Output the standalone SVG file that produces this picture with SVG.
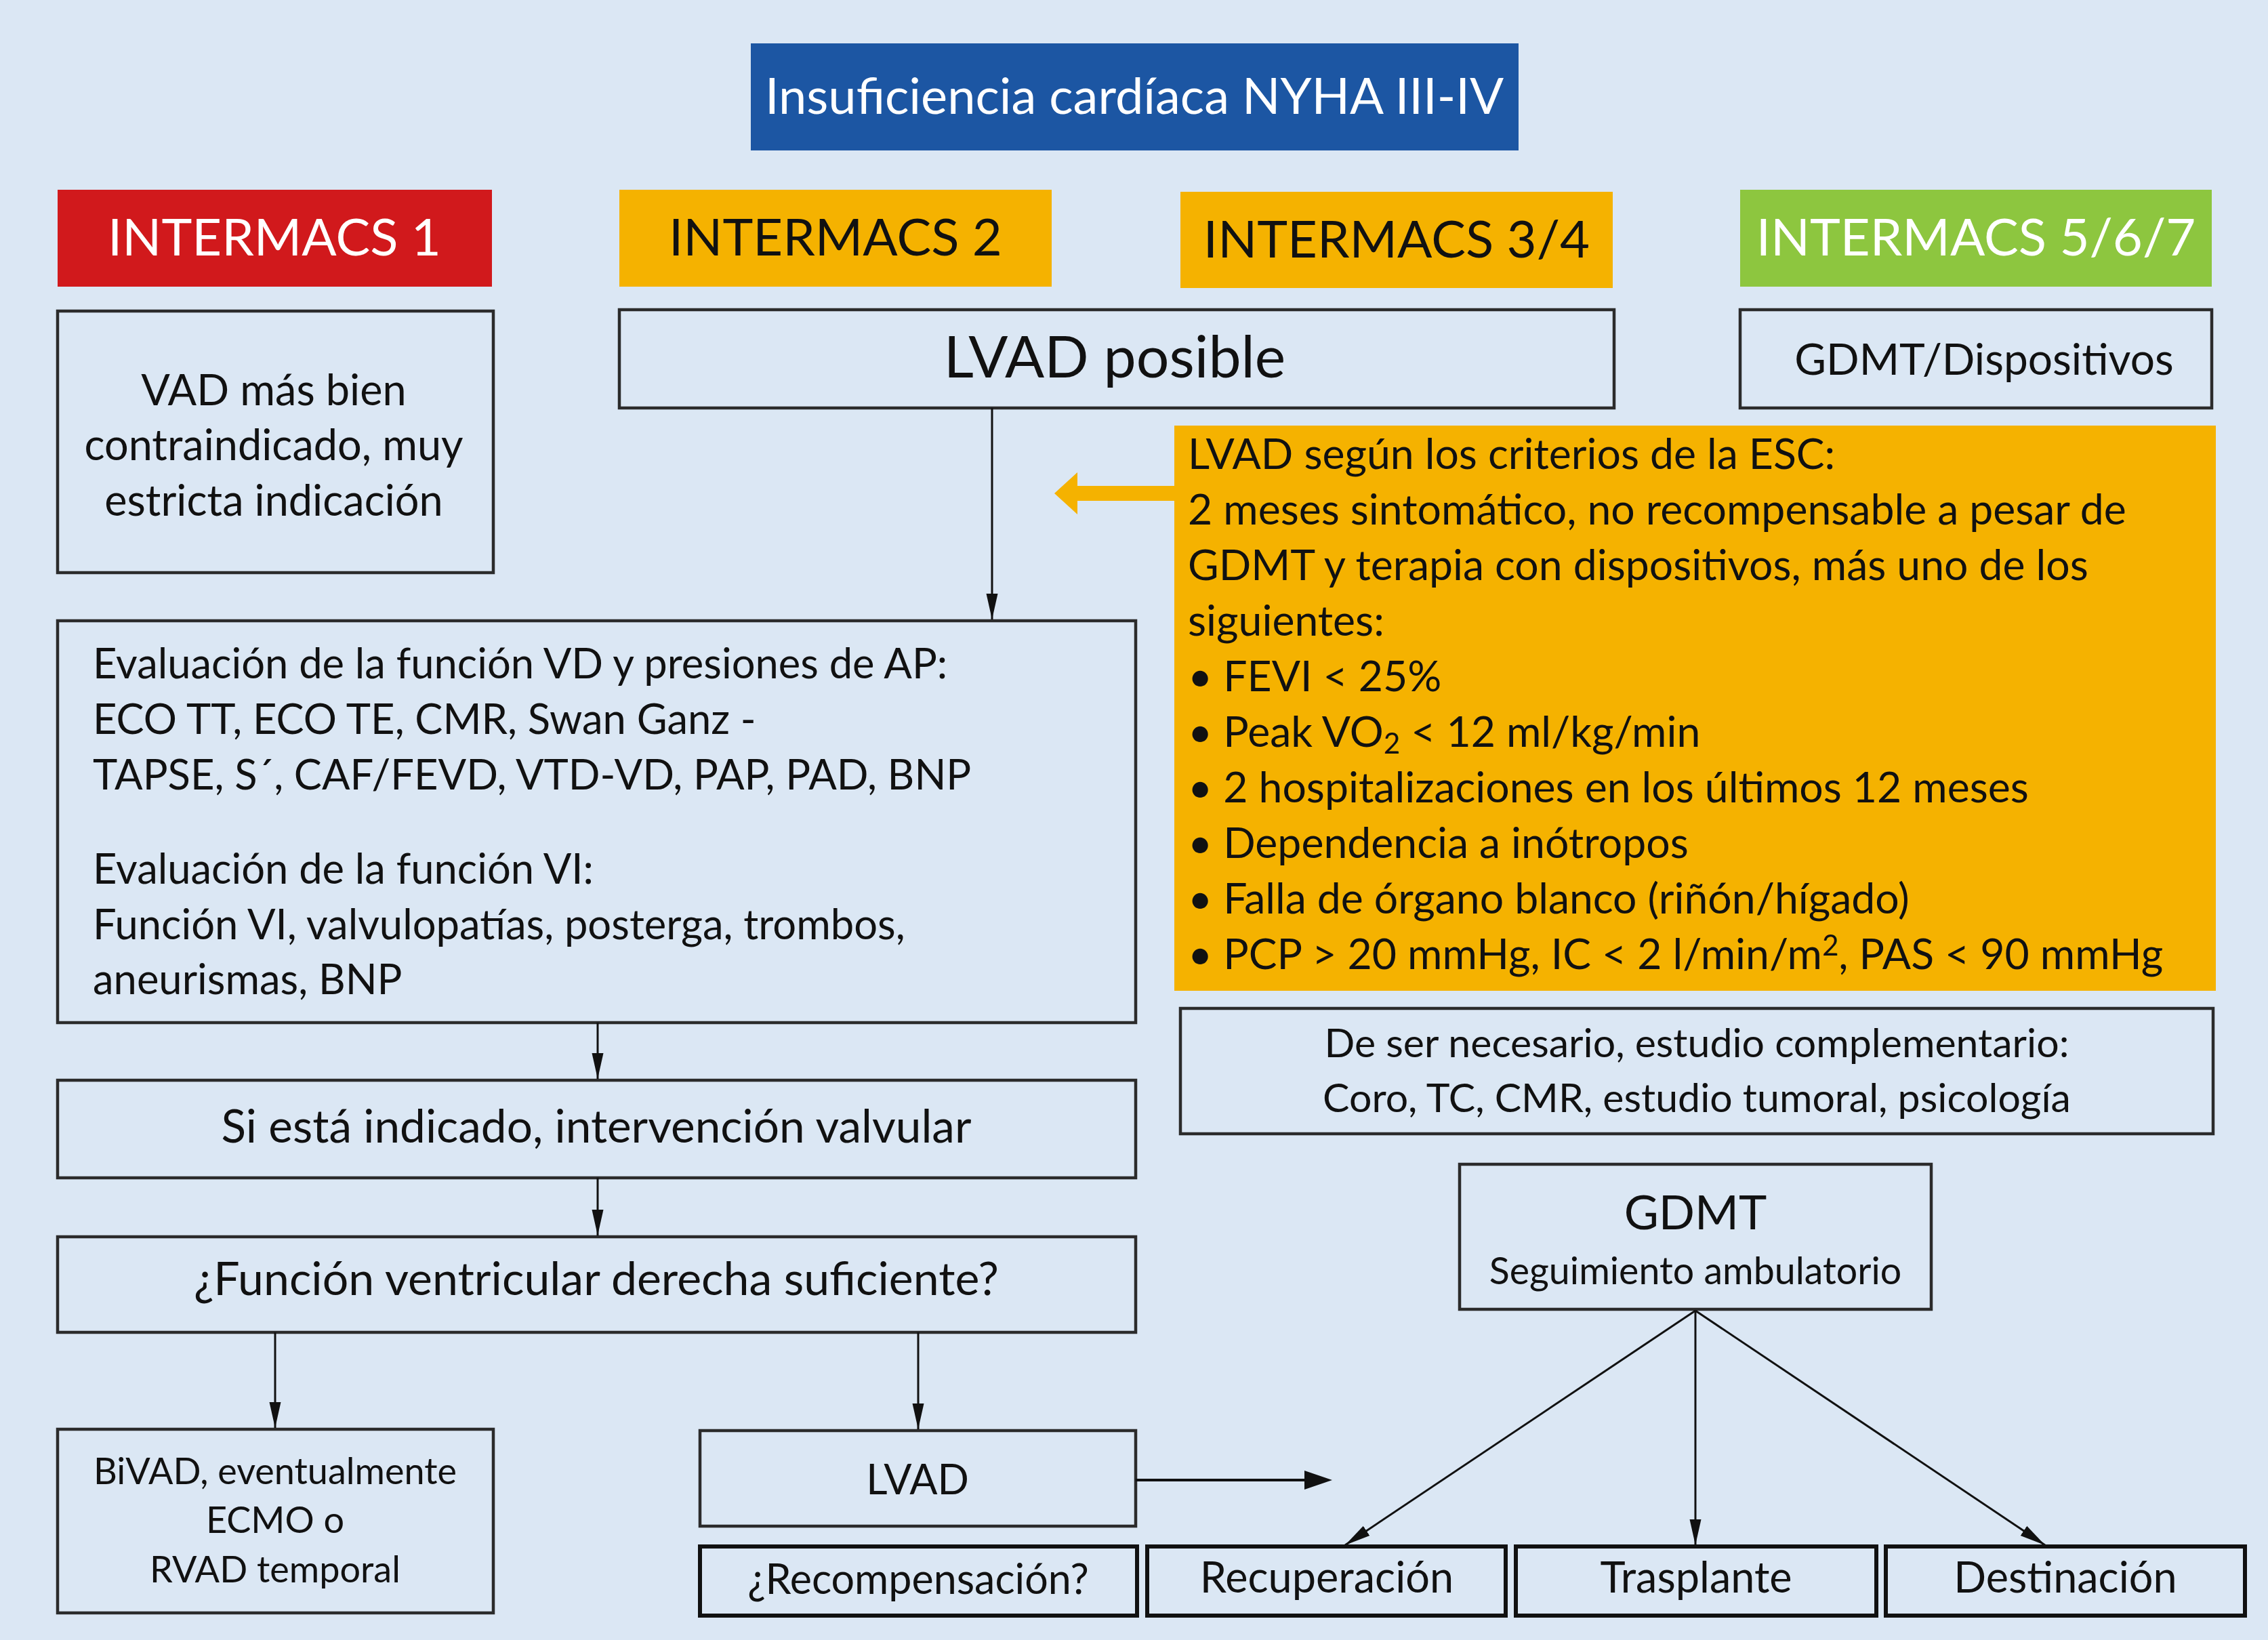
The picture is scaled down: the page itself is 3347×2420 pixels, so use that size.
<svg xmlns="http://www.w3.org/2000/svg" width="3347" height="2420" viewBox="0 0 3347 2420">
<defs>
<style>
text{font-family:Lato,"Open Sans","Liberation Sans",sans-serif;fill:#111;}
.box{fill:#dbe7f4;stroke:#2b2b2b;stroke-width:4.5;}
.bbox{fill:#dbe7f4;stroke:#111;stroke-width:6;}
.c{text-anchor:middle;}
.w{fill:#fff;}
.ln{stroke:#111;stroke-width:3;fill:none;}
</style>
<marker id="ah" markerUnits="userSpaceOnUse" markerWidth="40" markerHeight="20" refX="38" refY="10" orient="auto">
<path d="M0,1.5 L38,10 L0,18.5 Z" fill="#111"/>
</marker>
</defs>
<rect x="0" y="0" width="3347" height="2420" fill="#dbe7f4"/>

<g id="title">
<rect x="1108" y="64" width="1133" height="158" fill="#1c56a3"/>
<text class="c w" x="1674" y="168" font-size="74">Insuficiencia cardíaca NYHA III-IV</text>
</g>

<g id="intermacs1">
<rect x="85" y="280" width="641" height="143" fill="#d1191c"/>
<text class="c w" x="405" y="377" font-size="76">INTERMACS 1</text>
</g>
<g id="intermacs2">
<rect x="914" y="280" width="638" height="143" fill="#f5b200"/>
<text class="c" x="1233" y="377" font-size="76">INTERMACS 2</text>
</g>
<g id="intermacs34">
<rect x="1742" y="283" width="638" height="142" fill="#f5b200"/>
<text class="c" x="2061" y="380" font-size="76">INTERMACS 3/4</text>
</g>
<g id="intermacs567">
<rect x="2568" y="280" width="696" height="143" fill="#8dc63f"/>
<text class="c w" x="2916" y="377" font-size="76">INTERMACS 5/6/7</text>
</g>

<g id="vad">
<rect class="box" x="85" y="459" width="643" height="386"/>
<text class="c" x="404" y="598" font-size="63">VAD más bien</text>
<text class="c" x="404" y="679" font-size="63">contraindicado, muy</text>
<text class="c" x="404" y="761" font-size="63">estricta indicación</text>
</g>

<g id="lvad-posible">
<rect class="box" x="914" y="457" width="1468" height="145"/>
<text class="c" x="1645" y="557" font-size="86">LVAD posible</text>
</g>

<g id="gdmt-disp">
<rect class="box" x="2568" y="457" width="696" height="145"/>
<text class="c" x="2928" y="553" font-size="64">GDMT/Dispositivos</text>
</g>

<g id="esc">
<rect x="1733" y="628" width="1537" height="834" fill="#f5b200"/>
<g font-size="62.5">
<text x="1753" y="692">LVAD según los criterios de la ESC:</text>
<text x="1753" y="774">2 meses sintomático, no recompensable a pesar de</text>
<text x="1753" y="856">GDMT y terapia con dispositivos, más uno de los</text>
<text x="1753" y="938">siguientes:</text>
<text x="1753" y="1020">• FEVI &lt; 25%</text>
<text x="1753" y="1102">• Peak VO<tspan font-size="42" dy="10">2</tspan><tspan dy="-10"> &lt; 12 ml/kg/min</tspan></text>
<text x="1753" y="1184">• 2 hospitalizaciones en los últimos 12 meses</text>
<text x="1753" y="1266">• Dependencia a inótropos</text>
<text x="1753" y="1348">• Falla de órgano blanco (riñón/hígado)</text>
<text x="1753" y="1430">• PCP &gt; 20 mmHg, IC &lt; 2 l/min/m<tspan font-size="42" dy="-20">2</tspan><tspan dy="20">, PAS &lt; 90 mmHg</tspan></text>
</g>
</g>

<g id="evaluacion">
<rect class="box" x="85" y="916" width="1591" height="593"/>
<g font-size="61.5">
<text x="137" y="1001">Evaluación de la función VD y presiones de AP:</text>
<text x="137" y="1083">ECO TT, ECO TE, CMR, Swan Ganz -</text>
<text x="137" y="1165">TAPSE, S´, CAF/FEVD, VTD-VD, PAP, PAD, BNP</text>
<text x="137" y="1304">Evaluación de la función VI:</text>
<text x="137" y="1386">Función VI, valvulopatías, posterga, trombos,</text>
<text x="137" y="1467">aneurismas, BNP</text>
</g>
</g>

<g id="valvular">
<rect class="box" x="85" y="1594" width="1591" height="144"/>
<text class="c" x="880" y="1686" font-size="67.5">Si está indicado, intervención valvular</text>
</g>

<g id="funcion">
<rect class="box" x="85" y="1825" width="1591" height="141"/>
<text class="c" x="880" y="1911" font-size="68">¿Función ventricular derecha suficiente?</text>
</g>

<g id="bivad">
<rect class="box" x="85" y="2109" width="643" height="271"/>
<text class="c" x="406" y="2190" font-size="54">BiVAD, eventualmente</text>
<text class="c" x="406" y="2262" font-size="54">ECMO o</text>
<text class="c" x="406" y="2335" font-size="54">RVAD temporal</text>
</g>

<g id="lvad">
<rect class="box" x="1033" y="2111" width="643" height="141"/>
<text class="c" x="1354" y="2205" font-size="61">LVAD</text>
</g>

<g id="estudio">
<rect class="box" x="1742" y="1488" width="1524" height="185"/>
<text class="c" x="2504" y="1560" font-size="59">De ser necesario, estudio complementario:</text>
<text class="c" x="2504" y="1641" font-size="59">Coro, TC, CMR, estudio tumoral, psicología</text>
</g>

<g id="gdmt">
<rect class="box" x="2154" y="1718" width="696" height="214"/>
<text class="c" x="2502" y="1814" font-size="70">GDMT</text>
<text class="c" x="2502" y="1895" font-size="55.5">Seguimiento ambulatorio</text>
</g>

<g id="recompensacion">
<rect class="bbox" x="1033" y="2282" width="645" height="102"/>
<text class="c" x="1355" y="2352" font-size="61">¿Recompensación?</text>
</g>
<g id="recuperacion">
<rect class="bbox" x="1693" y="2282" width="529" height="102"/>
<text class="c" x="1958" y="2350" font-size="63">Recuperación</text>
</g>
<g id="trasplante">
<rect class="bbox" x="2237" y="2282" width="532" height="102"/>
<text class="c" x="2503" y="2350" font-size="63">Trasplante</text>
</g>
<g id="destinacion">
<rect class="bbox" x="2783" y="2282" width="530" height="102"/>
<text class="c" x="3048" y="2350" font-size="63">Destinación</text>
</g>

<g id="connectors">
<line class="ln" x1="1464" y1="602" x2="1464" y2="914" marker-end="url(#ah)"/>
<line class="ln" x1="882" y1="1509" x2="882" y2="1592" marker-end="url(#ah)"/>
<line class="ln" x1="882" y1="1738" x2="882" y2="1823" marker-end="url(#ah)"/>
<line class="ln" x1="406" y1="1966" x2="406" y2="2107" marker-end="url(#ah)"/>
<line class="ln" x1="1355" y1="1966" x2="1355" y2="2109" marker-end="url(#ah)"/>
<line x1="1676" y1="2184" x2="1940" y2="2184" stroke="#111" stroke-width="4"/>
<path d="M1925,2170 L1966,2184 L1925,2198 Z" fill="#111"/>
<line class="ln" x1="2502" y1="1934" x2="1985" y2="2280" marker-end="url(#ah)"/>
<line class="ln" x1="2502" y1="1934" x2="2502" y2="2280" marker-end="url(#ah)"/>
<line class="ln" x1="2502" y1="1934" x2="3018" y2="2280" marker-end="url(#ah)"/>
<path d="M1733,717 L1590,717 L1590,697 L1556,728 L1590,759 L1590,739 L1733,739 Z" fill="#f5b200"/>
</g>
</svg>
